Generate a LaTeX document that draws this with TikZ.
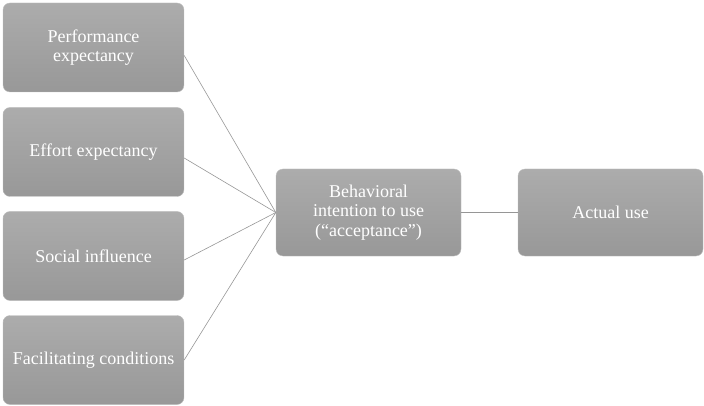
\documentclass[tikz,border=0pt]{standalone}
\usepackage{fontspec}
\setmainfont{Liberation Serif}
\usepackage{xcolor}
\usetikzlibrary{positioning}
\definecolor{boxtop}{RGB}{172,172,172}
\definecolor{boxbottom}{RGB}{152,152,152}
\definecolor{boxedge}{RGB}{190,190,190}
\definecolor{linkgray}{RGB}{150,150,150}
\begin{document}
\begin{tikzpicture}[x=1pt,y=-1pt,
  factor/.style={draw=boxedge, rounded corners=7pt, top color=boxtop, bottom color=boxbottom,
    minimum width=181pt, minimum height=89pt, align=center, text=white,
    font=\fontsize{18}{19.5}\selectfont, inner sep=1pt},
  link/.style={draw=linkgray, line width=0.6pt}]
  \useasboundingbox (0,0) rectangle (704,406);

  % determinants on the left
  \node[factor] (perf) at (93.5,47.5) {Performance\\expectancy};
  \node[factor] (effort) at (93.5,152) {Effort expectancy};
  \node[factor] (social) at (93.5,256) {Social influence};
  \node[factor] (facil) at (93.5,360) {Facilitating conditions};

  % intention and use
  \node[factor, minimum width=185pt, minimum height=87pt] (intent) at (368.5,212.5) {Behavioral\\intention to use\\(``acceptance'')};
  \node[factor, minimum width=185pt, minimum height=87pt] (use) at (610.5,212.5) {Actual use};

  \draw[link] (perf.east) ++(0,8) -- (intent.west);
  \draw[link] (effort.east) ++(0,6) -- (intent.west);
  \draw[link] (social.east) ++(0,4) -- (intent.west);
  \draw[link] (facil.east) -- (intent.west);
  \draw[link] (intent) -- (use);
\end{tikzpicture}
\end{document}
